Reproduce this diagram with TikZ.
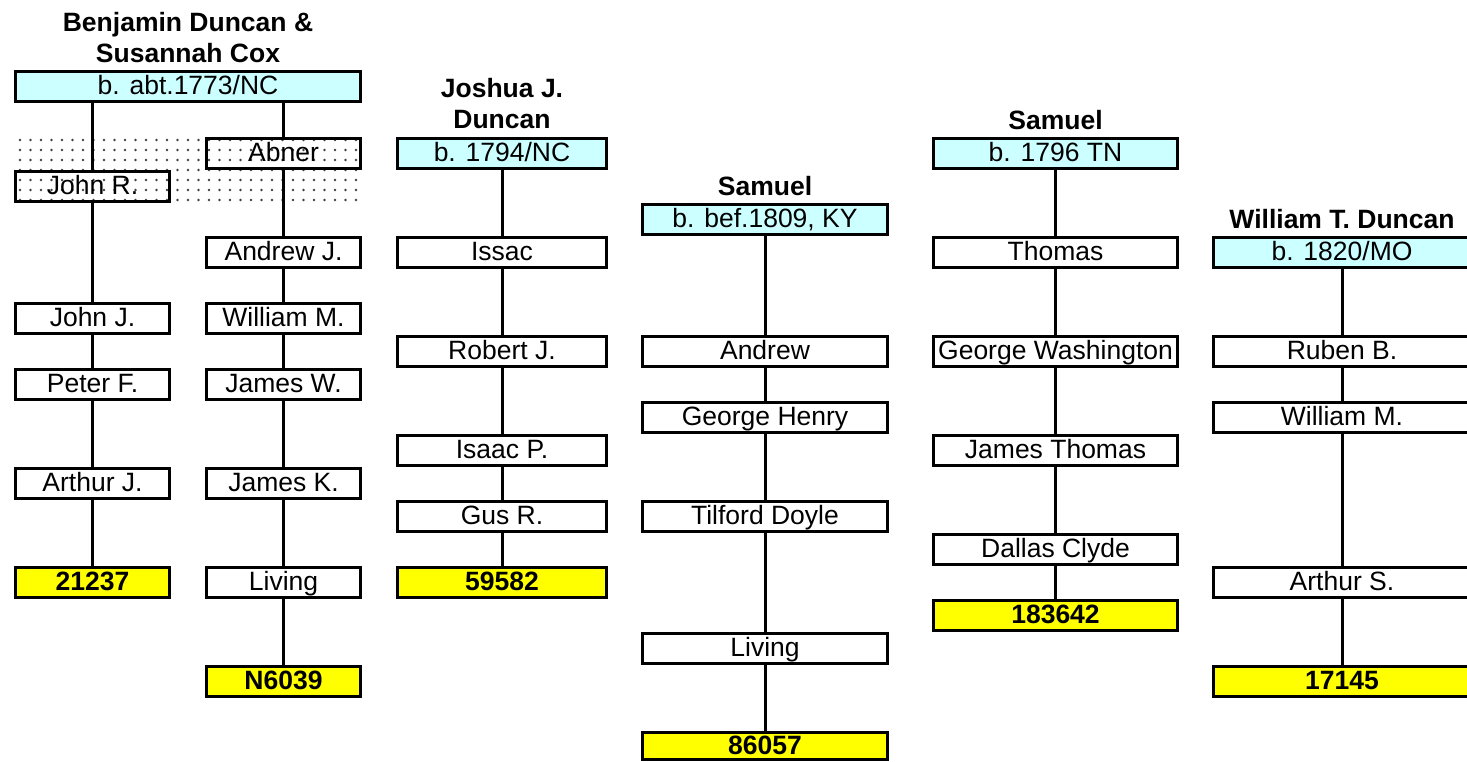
\documentclass[tikz,border=0pt]{standalone}
\usepackage{fontspec}
\setmainfont{Liberation Sans}
\definecolor{birth}{HTML}{CCFFFF}
\definecolor{idy}{HTML}{FFFF00}
\tikzset{
  pbox/.style={draw, line width=3pt, fill=white, minimum height=30pt, inner sep=0pt,
    text height=19pt, text depth=3pt, font=\fontsize{26.5}{31}\selectfont},
  bbox/.style={pbox, fill=birth},
  ybox/.style={pbox, fill=idy, font=\fontsize{26.5}{31}\selectfont\bfseries},
  obox/.style={pbox, fill=none},
  ttl/.style={font=\fontsize{26.5}{31}\selectfont\bfseries, align=center, inner sep=0pt},
  link/.style={line width=3pt},
  dotfill/.style={fill=black!75},
}
\begin{document}
\begin{tikzpicture}[x=1pt,y=-1pt]
\useasboundingbox (0,0) rectangle (1467,762);
% dotted background
\foreach \i in {0,...,32} {
  \foreach \j in {0,...,6} {
    \fill[dotfill] (20+10.5*\i,140+10*\j) circle (1.4);
  }
}
% titles
\node[ttl] (t1) at (188,37.5) {Benjamin Duncan \&\\Susannah Cox};
\node[ttl] (t3) at (502,103.5) {Joshua J.\\Duncan};
\node[ttl] (t4) at (765,186) {Samuel};
\node[ttl] (t5) at (1055.5,120) {Samuel};
\node[ttl] (t6) at (1342,219) {William T. Duncan};
% column 1/2
\node[bbox, minimum width=345pt] (top1) at (188,86.5) {b. abt.1773/NC};
\node[obox, minimum width=154pt] (johnR) at (92.5,186.5) {John R.};
\node[obox, minimum width=154pt] (abner) at (283.5,153.5) {Abner};
\node[pbox, minimum width=154pt] (johnJ) at (92.5,318.5) {John J.};
\node[pbox, minimum width=154pt] (peterF) at (92.5,384.5) {Peter F.};
\node[pbox, minimum width=154pt] (arthurJ) at (92.5,483.5) {Arthur J.};
\node[ybox, minimum width=154pt] (id1) at (92.5,582.5) {21237};
\node[pbox, minimum width=154pt] (andrewJ) at (283.5,252.5) {Andrew J.};
\node[pbox, minimum width=154pt] (williamM) at (283.5,318.5) {William M.};
\node[pbox, minimum width=154pt] (jamesW) at (283.5,384.5) {James W.};
\node[pbox, minimum width=154pt] (jamesK) at (283.5,483.5) {James K.};
\node[pbox, minimum width=154pt] (living2) at (283.5,582.5) {Living};
\node[ybox, minimum width=154pt] (id2) at (283.5,681.5) {N6039};
% column 3
\node[bbox, minimum width=209pt] (top3) at (502,153.5) {b. 1794/NC};
\node[pbox, minimum width=209pt] (issac) at (502,252.5) {Issac};
\node[pbox, minimum width=209pt] (robertJ) at (502,351.5) {Robert J.};
\node[pbox, minimum width=209pt] (isaacP) at (502,450.5) {Isaac P.};
\node[pbox, minimum width=209pt] (gusR) at (502,516.5) {Gus R.};
\node[ybox, minimum width=209pt] (id3) at (502,582.5) {59582};
% column 4
\node[bbox, minimum width=245pt] (top4) at (765,219.5) {b. bef.1809, KY};
\node[pbox, minimum width=245pt] (andrew) at (765,351.5) {Andrew};
\node[pbox, minimum width=245pt] (georgeH) at (765,417.5) {George Henry};
\node[pbox, minimum width=245pt] (tilford) at (765,516.5) {Tilford Doyle};
\node[pbox, minimum width=245pt] (living4) at (765,648.5) {Living};
\node[ybox, minimum width=245pt, minimum height=27pt] (id4) at (765,746) {86057};
% column 5
\node[bbox, minimum width=244pt] (top5) at (1055.5,153.5) {b. 1796 TN};
\node[pbox, minimum width=244pt] (thomas) at (1055.5,252.5) {Thomas};
\node[pbox, minimum width=244pt] (georgeW) at (1055.5,351.5) {George Washington};
\node[pbox, minimum width=244pt] (jamesT) at (1055.5,450.5) {James Thomas};
\node[pbox, minimum width=244pt] (dallas) at (1055.5,549.5) {Dallas Clyde};
\node[ybox, minimum width=244pt] (id5) at (1055.5,615.5) {183642};
% column 6
\node[bbox, minimum width=257pt] (top6) at (1342,252.5) {b. 1820/MO};
\node[pbox, minimum width=257pt] (rubenB) at (1342,351.5) {Ruben B.};
\node[pbox, minimum width=257pt] (williamM6) at (1342,417.5) {William M.};
\node[pbox, minimum width=257pt] (arthurS) at (1342,582.5) {Arthur S.};
\node[ybox, minimum width=257pt] (id6) at (1342,681.5) {17145};
% connectors
\draw[link] (top1.south -| johnR) -- (johnR.north);
\draw[link] (top1.south -| abner) -- (abner.north);
\foreach \a/\b in {johnR/johnJ, johnJ/peterF, peterF/arthurJ, arthurJ/id1,
  abner/andrewJ, andrewJ/williamM, williamM/jamesW, jamesW/jamesK, jamesK/living2, living2/id2,
  top3/issac, issac/robertJ, robertJ/isaacP, isaacP/gusR, gusR/id3,
  top4/andrew, andrew/georgeH, georgeH/tilford, tilford/living4, living4/id4,
  top5/thomas, thomas/georgeW, georgeW/jamesT, jamesT/dallas, dallas/id5,
  top6/rubenB, rubenB/williamM6, williamM6/arthurS, arthurS/id6} {
  \draw[link] (\a) -- (\b);
}
\end{tikzpicture}
\end{document}
